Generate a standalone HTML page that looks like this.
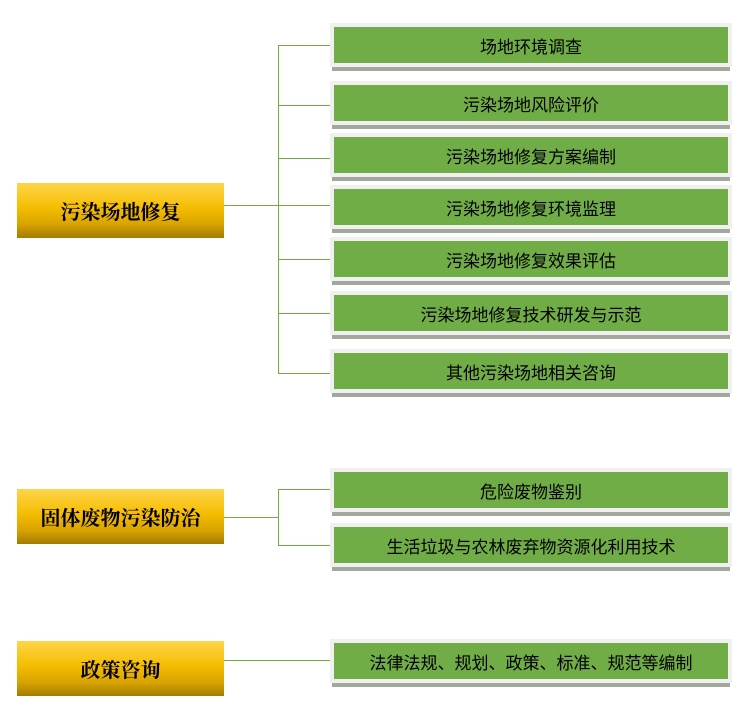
<!DOCTYPE html>
<html><head><meta charset="utf-8"><style>
body{margin:0;width:755px;height:721px;background:#fff;position:relative;overflow:hidden}
.g{position:absolute;left:334px;width:394px;height:36px;background:#70ad47;color:#000;font:17px "Liberation Sans","Noto Sans CJK SC",sans-serif;display:flex;align-items:center;justify-content:center;outline:4px solid #f0f0f0;box-shadow:0 6px 0 2px #a3a89c}
.y{position:absolute;left:17px;width:207px;height:55px;background:linear-gradient(#ffd54a 0%,#f5bd00 45%,#d9a400 75%,#a37a00 100%);font:bold 20px "Liberation Serif","Noto Serif CJK SC",serif;display:flex;align-items:center;justify-content:center;color:#000}
.h{position:absolute;height:1px;background:#70ad47}
.v{position:absolute;width:1px;background:#70ad47}
</style></head><body>
<div class="v" style="left:278px;top:45px;height:329px"></div>
<div class="h" style="left:224px;top:205px;width:54px"></div>
<div class="h" style="left:278px;top:45px;width:56px"></div>
<div class="h" style="left:278px;top:105px;width:56px"></div>
<div class="h" style="left:278px;top:158px;width:56px"></div>
<div class="h" style="left:278px;top:205px;width:56px"></div>
<div class="h" style="left:278px;top:259px;width:56px"></div>
<div class="h" style="left:278px;top:313px;width:56px"></div>
<div class="h" style="left:278px;top:373px;width:56px"></div>
<div class="g" style="top:27px">场地环境调查</div>
<div class="g" style="top:85px">污染场地风险评价</div>
<div class="g" style="top:137px">污染场地修复方案编制</div>
<div class="g" style="top:189px">污染场地修复环境监理</div>
<div class="g" style="top:241px">污染场地修复效果评估</div>
<div class="g" style="top:295px">污染场地修复技术研发与示范</div>
<div class="g" style="top:353px">其他污染场地相关咨询</div>
<div class="y" style="top:183px">污染场地修复</div>

<div class="v" style="left:278px;top:489px;height:57px"></div>
<div class="h" style="left:224px;top:517px;width:54px"></div>
<div class="h" style="left:278px;top:489px;width:56px"></div>
<div class="h" style="left:278px;top:545px;width:56px"></div>
<div class="g" style="top:472px">危险废物鉴别</div>
<div class="g" style="top:527px">生活垃圾与农林废弃物资源化利用技术</div>
<div class="y" style="top:489px">固体废物污染防治</div>

<div class="h" style="left:224px;top:660px;width:110px"></div>
<div class="g" style="top:643px">法律法规、规划、政策、标准、规范等编制</div>
<div class="y" style="top:641px">政策咨询</div>
</body></html>
